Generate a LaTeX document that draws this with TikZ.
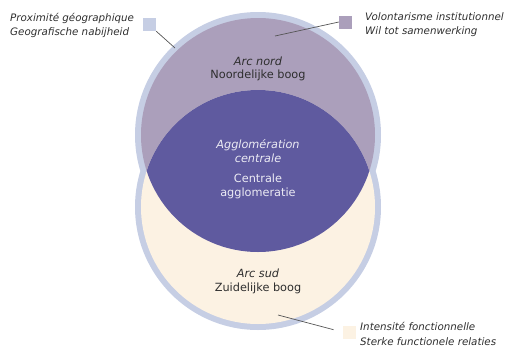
\documentclass[tikz,border=0pt]{standalone}
\usepackage{fontspec}
\setmainfont{DejaVu Sans}
\usetikzlibrary{positioning}

\definecolor{anneau}{HTML}{C6CEE4}
\definecolor{nord}{HTML}{AB9FBB}
\definecolor{centre}{HTML}{5F5A9F}
\definecolor{sud}{HTML}{FCF2E3}
\definecolor{trait}{HTML}{555555}
\definecolor{texte}{HTML}{2E2E2E}

\tikzset{
  legende/.style={font=\fontsize{10.3}{14.5}\selectfont\itshape, text=texte, align=left, inner sep=0pt},
  carre/.style={minimum size=13pt, inner sep=0pt},
  zone/.style={font=\fontsize{11.3}{13.5}\selectfont, align=center, inner sep=0pt},
  renvoi/.style={draw=trait, line width=0.7pt},
}

\begin{document}
\begin{tikzpicture}[x=1pt,y=-1pt]
\useasboundingbox (0,0) rectangle (507,349);

% Anneaux
\fill[anneau] (258,135) circle (123pt) (258,207) circle (123pt);

% Disques
\fill[nord] (258,135) circle (117pt);
\fill[sud] (258,207) circle (117pt);

% Intersection
\begin{scope}
\clip (258,135) circle (117pt);
\fill[centre] (258,207) circle (117pt);
\end{scope}

% Textes des zones
\node[zone, text=texte] (arcnord) at (258,69) {\textit{Arc nord}\\Noordelijke boog};
\node[zone, text=white!88!centre] (agglofr) at (258,151) {\textit{Agglomération}\\\textit{centrale}};
\node[zone, text=white!88!centre] (agglonl) at (258,186.5) {Centrale\\agglomeratie};
\node[zone, text=texte] (arcsud) at (258,281.5) {\textit{Arc sud}\\Zuidelijke boog};

% Legende
\node[carre, fill=anneau] (proxi) at (149.5,24.5) {};
\node[carre, fill=nord] (volont) at (345.5,22) {};
\node[carre, fill=sud] (intens) at (349,332) {};

\node[legende, anchor=west] (proxitxt) at (10,25.5) {Proximité géographique\\Geografische nabijheid};
\node[legende, anchor=west] (volonttxt) at (365,24.5) {Volontarisme institutionnel\\Wil tot samenwerking};
\node[legende, anchor=west] (intenstxt) at (360,334) {Intensité fonctionnelle\\Sterke functionele relaties};

% Renvois
\coordinate (proxibout) at (175,48);
\coordinate (volontbout) at (275,36);
\coordinate (intensbout) at (278,315);
\draw[renvoi] (proxi.south east) -- (proxibout);
\draw[renvoi] (volont.west) -- (volontbout);
\draw[renvoi, shorten <=9pt] (intens.west) -- (intensbout);

\end{tikzpicture}
\end{document}
